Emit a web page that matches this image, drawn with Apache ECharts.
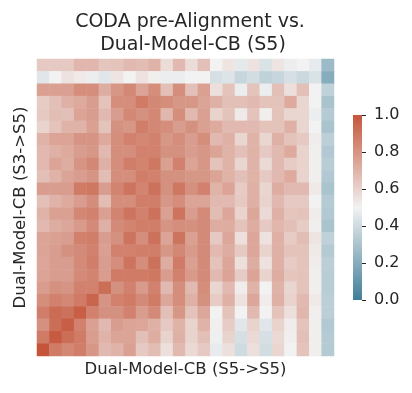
<!DOCTYPE html>
<html>
<head>
<meta charset="utf-8">
<script src="https://cdn.jsdelivr.net/npm/echarts@6/dist/echarts.min.js"></script>
<style>
html,body{margin:0;padding:0;background:#fff;}
#chart{width:412px;height:393px;}
</style>
</head>
<body>
<div id="chart"></div>
<script>
// Column labels (S5->S5) and row labels (S3->S5): 24 positions each
const colLabels = Array.from({length: 24}, (_, i) => 'c' + i);
const rowLabels = Array.from({length: 24}, (_, i) => 'r' + i);
const colorbarTicks = [0, 0.2, 0.4, 0.6, 0.8, 1.0];
const colorbarRange = [1];

// Matrix values, top row first, left column first
const row0  = [0.63,0.63,0.63,0.69,0.69,0.64,0.65,0.68,0.67,0.70,0.57,0.68,0.57,0.66,0.50,0.54,0.46,0.55,0.43,0.54,0.48,0.50,0.47,0.26];
const row1  = [0.45,0.50,0.55,0.53,0.48,0.45,0.54,0.50,0.55,0.51,0.48,0.48,0.50,0.50,0.42,0.44,0.38,0.41,0.36,0.38,0.42,0.39,0.43,0.20];
const row2  = [0.76,0.76,0.76,0.82,0.82,0.72,0.79,0.84,0.75,0.82,0.66,0.82,0.66,0.76,0.56,0.65,0.48,0.65,0.48,0.66,0.56,0.66,0.50,0.36];
const row3  = [0.62,0.66,0.71,0.73,0.77,0.65,0.82,0.82,0.88,0.84,0.82,0.79,0.79,0.75,0.71,0.66,0.66,0.68,0.65,0.65,0.73,0.59,0.50,0.30];
const row4  = [0.63,0.67,0.66,0.75,0.77,0.68,0.77,0.84,0.81,0.84,0.69,0.82,0.68,0.76,0.60,0.65,0.53,0.65,0.51,0.65,0.59,0.59,0.48,0.33];
const row5  = [0.60,0.65,0.70,0.70,0.76,0.65,0.81,0.79,0.87,0.84,0.82,0.77,0.81,0.76,0.73,0.68,0.68,0.68,0.65,0.65,0.71,0.59,0.50,0.30];
const row6  = [0.70,0.75,0.75,0.80,0.80,0.73,0.82,0.86,0.84,0.86,0.79,0.82,0.77,0.82,0.68,0.71,0.59,0.70,0.59,0.71,0.65,0.63,0.52,0.35];
const row7  = [0.68,0.71,0.73,0.77,0.79,0.68,0.82,0.82,0.86,0.86,0.81,0.81,0.77,0.79,0.75,0.70,0.66,0.70,0.63,0.68,0.73,0.60,0.51,0.32];
const row8  = [0.68,0.75,0.72,0.80,0.84,0.71,0.82,0.87,0.85,0.89,0.76,0.86,0.75,0.79,0.65,0.70,0.59,0.70,0.58,0.68,0.62,0.60,0.51,0.34];
const row9  = [0.66,0.70,0.75,0.77,0.80,0.67,0.82,0.82,0.87,0.86,0.81,0.81,0.79,0.79,0.75,0.70,0.66,0.70,0.63,0.68,0.73,0.60,0.51,0.32];
const row10 = [0.77,0.77,0.77,0.88,0.89,0.77,0.85,0.90,0.85,0.91,0.81,0.89,0.81,0.86,0.70,0.75,0.62,0.71,0.59,0.72,0.68,0.68,0.53,0.30];
const row11 = [0.66,0.70,0.73,0.77,0.82,0.67,0.82,0.82,0.87,0.87,0.79,0.82,0.75,0.75,0.68,0.68,0.63,0.71,0.60,0.68,0.63,0.63,0.50,0.33];
const row12 = [0.70,0.76,0.76,0.84,0.86,0.76,0.85,0.90,0.86,0.91,0.76,0.90,0.77,0.83,0.67,0.74,0.60,0.74,0.58,0.71,0.64,0.65,0.52,0.32];
const row13 = [0.68,0.72,0.74,0.78,0.83,0.71,0.83,0.85,0.87,0.87,0.80,0.82,0.81,0.83,0.72,0.72,0.65,0.72,0.63,0.69,0.66,0.62,0.51,0.30];
const row14 = [0.75,0.76,0.77,0.86,0.87,0.77,0.81,0.90,0.82,0.91,0.75,0.90,0.76,0.83,0.63,0.74,0.56,0.74,0.55,0.71,0.62,0.67,0.54,0.36];
const row15 = [0.75,0.77,0.81,0.83,0.86,0.76,0.86,0.86,0.87,0.87,0.79,0.84,0.78,0.83,0.68,0.72,0.63,0.74,0.60,0.71,0.65,0.65,0.53,0.33];
const row16 = [0.74,0.77,0.77,0.83,0.87,0.77,0.82,0.90,0.82,0.91,0.72,0.88,0.76,0.83,0.65,0.74,0.56,0.72,0.55,0.71,0.62,0.65,0.52,0.35];
const row17 = [0.75,0.77,0.77,0.83,0.85,0.77,0.88,0.88,0.88,0.89,0.77,0.86,0.78,0.83,0.68,0.75,0.62,0.75,0.60,0.72,0.64,0.65,0.51,0.34];
const row18 = [0.77,0.81,0.80,0.86,0.86,0.92,0.81,0.86,0.78,0.86,0.68,0.82,0.68,0.82,0.59,0.68,0.52,0.70,0.50,0.70,0.59,0.65,0.51,0.34];
const row19 = [0.82,0.86,0.84,0.88,0.95,0.80,0.86,0.88,0.83,0.88,0.74,0.82,0.71,0.81,0.62,0.71,0.55,0.74,0.52,0.71,0.60,0.68,0.53,0.35];
const row20 = [0.87,0.93,0.91,0.97,0.86,0.81,0.81,0.86,0.77,0.83,0.66,0.79,0.65,0.74,0.50,0.65,0.50,0.68,0.50,0.65,0.56,0.69,0.51,0.35];
const row21 = [0.81,0.92,0.97,0.86,0.76,0.68,0.77,0.75,0.74,0.71,0.63,0.70,0.60,0.70,0.51,0.62,0.45,0.60,0.45,0.60,0.52,0.65,0.51,0.32];
const row22 = [0.88,0.98,0.92,0.88,0.77,0.70,0.75,0.75,0.66,0.72,0.60,0.71,0.60,0.66,0.49,0.60,0.42,0.58,0.42,0.58,0.51,0.66,0.51,0.33];
const row23 = [1.00,0.88,0.84,0.87,0.79,0.68,0.70,0.76,0.63,0.67,0.56,0.68,0.58,0.63,0.47,0.56,0.40,0.56,0.41,0.59,0.50,0.65,0.51,0.33];
const matrix = [row0,row1,row2,row3,row4,row5,row6,row7,row8,row9,row10,row11,
                row12,row13,row14,row15,row16,row17,row18,row19,row20,row21,row22,row23];

const NEG = '#3f7e98', MID = '#f2f2f2', POS = '#c4553a';

const heatData = [];
matrix.forEach((row, r) => row.forEach((v, c) => heatData.push([c, r, v])));

const FONT = 'DejaVu Sans';
const TXT = '#262626';

const chart = echarts.init(document.getElementById('chart'), null, {renderer: 'canvas'});
chart.setOption({
  animation: false,
  backgroundColor: '#ffffff',
  textStyle: {fontFamily: FONT, color: TXT},
  title: {
    text: 'CODA pre-Alignment vs.\n Dual-Model-CB (S5)',
    left: 185,
    top: 6,
    textAlign: 'center',
    textStyle: {fontFamily: FONT, fontSize: 19, fontWeight: 'normal', color: TXT, lineHeight: 23}
  },
  grid: [
    {left: 37, top: 59, width: 297, height: 297},
    {left: 353, top: 115, width: 9, height: 185}
  ],
  xAxis: [
    {
      type: 'category', gridIndex: 0, data: colLabels,
      axisLine: {show: false}, axisTick: {show: false}, axisLabel: {show: false},
      splitArea: {show: false},
      name: 'Dual-Model-CB (S5->S5)', nameLocation: 'middle', nameGap: 5,
      nameTextStyle: {fontFamily: FONT, fontSize: 16.5, color: TXT, verticalAlign: 'top'}
    },
    {
      type: 'category', gridIndex: 1, data: ['cb'],
      axisLine: {show: false}, axisTick: {show: false}, axisLabel: {show: false}
    }
  ],
  yAxis: [
    {
      type: 'category', gridIndex: 0, data: rowLabels, inverse: true,
      axisLine: {show: false}, axisTick: {show: false}, axisLabel: {show: false},
      splitArea: {show: false},
      name: 'Dual-Model-CB (S3->S5)', nameLocation: 'middle', nameGap: 8, nameRotate: 90,
      nameTextStyle: {fontFamily: FONT, fontSize: 16.5, color: TXT}
    },
    {
      type: 'value', gridIndex: 1, position: 'right', min: 0, max: 1, interval: 0.2,
      axisLine: {show: false},
      axisTick: {show: true, length: 4, lineStyle: {color: TXT, width: 1}},
      splitLine: {show: false},
      axisLabel: {
        fontFamily: FONT, fontSize: 16, color: TXT, margin: 12,
        formatter: v => v.toFixed(1)
      }
    }
  ],
  visualMap: {
    show: false, min: 0, max: 1, seriesIndex: 0, dimension: 2,
    inRange: {color: [NEG, MID, POS]}
  },
  series: [
    {
      type: 'heatmap', xAxisIndex: 0, yAxisIndex: 0, data: heatData,
      itemStyle: {borderWidth: 0}, emphasis: {disabled: true}, progressive: 0
    },
    {
      type: 'bar', xAxisIndex: 1, yAxisIndex: 1, data: colorbarRange,
      barWidth: '100%', silent: true,
      itemStyle: {
        color: new echarts.graphic.LinearGradient(0, 0, 0, 1, [
          {offset: 0, color: POS}, {offset: 0.5, color: MID}, {offset: 1, color: NEG}
        ])
      }
    }
  ]
});
</script>
</body>
</html>
